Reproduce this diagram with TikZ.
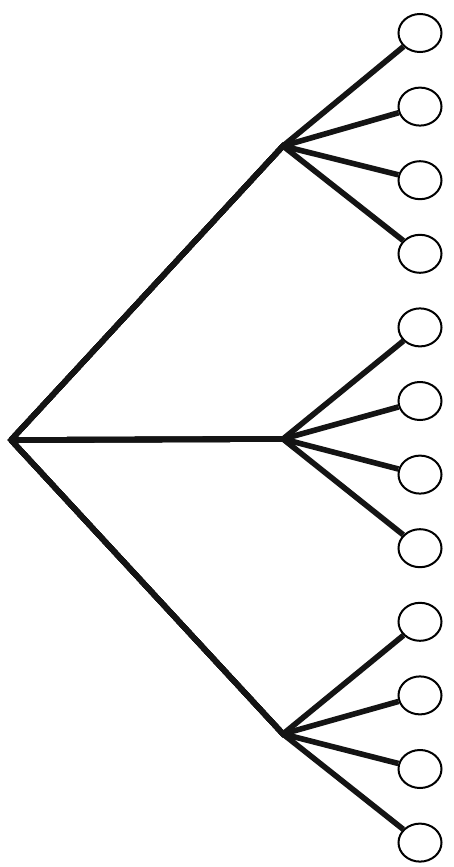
\documentclass[tikz,border=0pt]{standalone}
\usetikzlibrary{shapes.geometric}
\begin{document}
\begin{tikzpicture}[x=1pt,y=-1pt,
  leaf/.style={ellipse,draw,line width=2pt,minimum width=43pt,minimum height=38pt,inner sep=0pt,fill=white},
  edge/.style={line width=5.6pt,line join=miter,black!92}]
\useasboundingbox (0,0) rectangle (454,867);
\coordinate (root) at (11,440);
\coordinate (b1) at (283,146);
\coordinate (b2) at (283,439);
\coordinate (b3) at (283,734);
\foreach \i in {1,...,12}{
  \node[leaf] (l\i) at (420,{33+73.6*(\i-1)}) {};
}
\draw[edge] (b1) -- (root) -- (b3);
\draw[edge] (root) -- (b2);
\foreach \i in {1,...,4}{\draw[edge] (root) -- (b1) -- (l\i);}
\foreach \i in {5,...,8}{\draw[edge] (root) -- (b2) -- (l\i);}
\foreach \i in {9,...,12}{\draw[edge] (root) -- (b3) -- (l\i);}
\end{tikzpicture}
\end{document}
